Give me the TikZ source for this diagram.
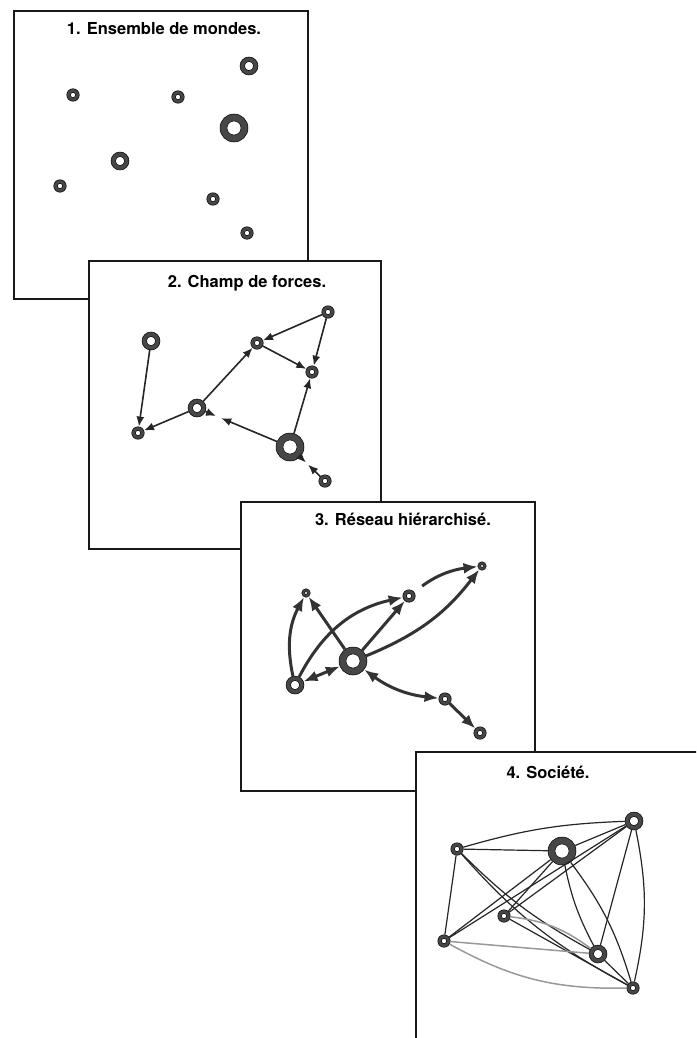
\documentclass[tikz,border=0pt]{standalone}
\usepackage{fontspec}
\setmainfont{TeX Gyre Heros}
\usetikzlibrary{arrows.meta}

\tikzset{
  cadre/.style={draw=black!90, line width=1.4pt, fill=white},
  titre/.style={font=\fontsize{16.5}{19}\selectfont\bfseries, inner sep=0pt, anchor=base},
  anneau/.style={circle, inner sep=0pt, fill=black!72, draw=black, line width=0.5pt,
    path picture={\fill[white, draw=black, line width=0.5pt] (path picture bounding box.center) circle (#1);}},
  ring0/.style={anneau=1.8pt, minimum size=8.5pt},
  ring1/.style={anneau=2.6pt, minimum size=12.5pt},
  ring2/.style={anneau=4.6pt, minimum size=18pt},
  ring3/.style={anneau=7pt, minimum size=28pt},
  force/.style={draw=black!85, line width=1.6pt, >={Latex[length=10pt,width=8pt]}, ->},
  lien/.style={draw=black!80, line width=3pt, >={Latex[length=14pt,width=11pt]}, ->},
  fil/.style={draw=black!85, line width=1.2pt},
  filgris/.style={draw=black!40, line width=1.5pt},
}

\begin{document}
\begin{tikzpicture}[x=1pt,y=1pt]
\useasboundingbox (0,0) rectangle (696,-1038);
\clip (0,0) rectangle (696,-1038);

% 1. Ensemble de mondes
\draw[cadre] (14,-11) rectangle (308,-299);
\node[titre] (t1) at (164,-35) {1. Ensemble de mondes.};
\node[ring2] (m1) at (249,-66) {};
\node[ring1] (m2) at (73,-95) {};
\node[ring1] (m3) at (178,-97) {};
\node[ring3] (m4) at (234,-128) {};
\node[ring2] (m5) at (120,-161) {};
\node[ring1] (m6) at (60,-186) {};
\node[ring1] (m7) at (213,-199) {};
\node[ring1] (m8) at (247,-233) {};

% 2. Champ de forces
\draw[cadre] (89,-261) rectangle (381,-549);
\node[titre] (t2) at (247,-287) {2. Champ de forces.};
\node[ring2] (f1) at (151,-341) {};
\node[ring1] (f2) at (138,-433) {};
\node[ring2] (f3) at (197,-408) {};
\node[ring1] (f4) at (257,-343) {};
\node[ring1] (f5) at (328,-312) {};
\node[ring1] (f6) at (312,-372) {};
\node[ring3] (f7) at (290,-447) {};
\node[ring1] (f8) at (325,-481) {};

\draw[force] (f1) -- (f2);
\draw[force] (f3) -- (f2);
\draw[force] (f3) -- (f4);
\draw[force] (f5) -- (f4);
\draw[force] (f5) -- (f6);
\draw[force] (f4) -- (f6);
\draw[force] (f7) -- (f6);
\draw[force, shorten >=17pt] (f7) -- (f3);
\draw[force, shorten >=66pt] (f3) -- (f7);
\draw[force, shorten >=20pt] (f7) -- (f8);
\draw[force, shorten >=11pt] (f8) -- (f7);

% 3. Reseau hierarchise
\draw[cadre] (241,-502) rectangle (535,-791);
\node[titre] (t3) at (403,-525) {3. Réseau hiérarchisé.};
\node[ring0] (r1) at (306,-593) {};
\node[ring1] (r2) at (409,-596) {};
\node[ring0] (r3) at (482,-566) {};
\node[ring3] (r4) at (353,-661) {};
\node[ring2] (r5) at (295,-685) {};
\node[ring1] (r6) at (445,-699) {};
\node[ring1] (r7) at (480,-733) {};

\draw[lien] (r5) to[bend left=20] (r1);
\draw[lien] (r4) -- (r1);
\draw[lien] (r5) to[bend left=25] (r2);
\draw[lien] (r4) -- (r2);
\draw[lien] (r4) to[bend right=15] (r3);
\draw[lien, shorten <=10pt] (r2) to[bend left=15] (r3);
\draw[lien, <->] (r5) -- (r4);
\draw[lien, <->] (r4) to[bend right=15] (r6);
\draw[lien] (r6) -- (r7);

% 4. Societe
\draw[cadre] (416,-752) rectangle (712,-1040);
\node[titre] (t4) at (548,-778) {4. Société.};
\node[ring1] (s1) at (457,-849) {};
\node[ring3] (s2) at (562,-851) {};
\node[ring2] (s3) at (634,-821) {};
\node[ring1] (s4) at (504,-916) {};
\node[ring1] (s5) at (444,-941) {};
\node[ring2] (s6) at (598,-954) {};
\node[ring1] (s7) at (633,-988) {};

\draw[fil] (s1) to[bend left=7] (s3);
\draw[fil] (s1) -- (s2);
\draw[fil] (s2) -- (s3);
\draw[fil] (s1) -- (s5);
\draw[fil] (s1) to[bend right=8] (s6);
\draw[fil] (s1) to[bend right=10] (s7);
\draw[fil] (s3) -- (s5);
\draw[fil] (s3) -- (s4);
\draw[fil] (s3) -- (s6);
\draw[fil] (s3) to[bend left=12] (s7);
\draw[fil] (s2) -- (s4);
\draw[fil] (s2) -- (s5);
\draw[fil] (s2) to[bend right=8] (s6);
\draw[fil] (s2) to[bend left=10] (s7);
\draw[fil] (s4) -- (s7);
\draw[fil] (s6) -- (s7);
\draw[filgris] (s4) to[bend left=15] (s6);
\draw[filgris] (s5) -- (s6);
\draw[filgris] (s5) to[bend right=15] (s7);
\end{tikzpicture}
\end{document}
